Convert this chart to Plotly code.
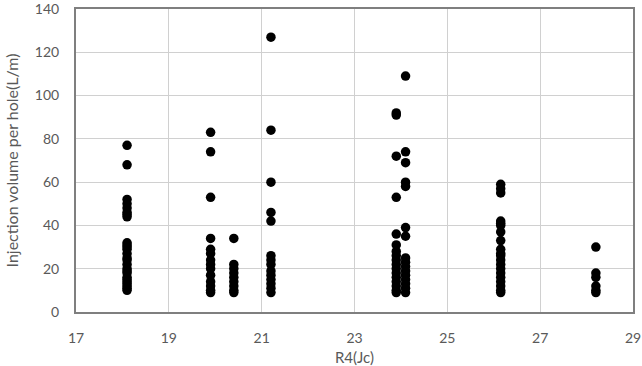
import plotly.graph_objects as go

# R4(Jc) group positions and injection volumes per hole (L/m)
x_181 = 18.1
y_181 = [77, 68, 52, 50, 48, 46, 45, 44, 32, 31, 30, 29, 27, 25, 24, 22, 20, 19, 18, 16, 15, 14, 13, 12, 11, 10]
x_199 = 19.9
y_199 = [83, 74, 53, 34, 29, 27, 24, 22, 20, 17, 14, 12, 10, 9]
x_204 = 20.4
y_204 = [34, 22, 20, 18, 16, 14, 12, 10, 9]
x_212 = 21.2
y_212 = [127, 84, 60, 46, 42, 26, 24, 22, 19, 17, 15, 13, 11, 9]
x_239 = 23.9
y_239 = [91, 92, 72, 53, 36, 31, 28, 26, 24, 22, 20, 18, 16, 14, 12, 10, 9]
x_241 = 24.1
y_241 = [109, 74, 69, 60, 58, 39, 35, 25, 23, 21, 19, 17, 15, 13, 11, 9]
x_261 = 26.15
y_261 = [59, 57, 55, 42, 41, 40, 37, 33, 29, 27, 26, 24, 22, 20, 18, 16, 14, 12, 10, 9]
x_282 = 28.2
y_282 = [30, 18, 16, 12, 10, 9]

groups = [(x_181, y_181), (x_199, y_199), (x_204, y_204), (x_212, y_212),
          (x_239, y_239), (x_241, y_241), (x_261, y_261), (x_282, y_282)]

xs, ys = [], []
for gx, gy in groups:
    xs += [gx] * len(gy)
    ys += gy

x_ticks = [17, 19, 21, 23, 25, 27, 29]
y_ticks = [0, 20, 40, 60, 80, 100, 120, 140]

fig = go.Figure(go.Scatter(
    x=xs, y=ys, mode="markers",
    marker=dict(color="black", size=9.5),
    showlegend=False,
))

font = dict(family="Lato, Open Sans, sans-serif", size=14, color="#595959")

fig.update_layout(
    width=642, height=366,
    margin=dict(l=76, r=9, t=9, b=54, autoexpand=False),
    paper_bgcolor="white", plot_bgcolor="white",
    font=font,
)
fig.update_xaxes(
    range=[17, 29], tickvals=x_ticks, ticktext=[str(v) for v in x_ticks],
    showgrid=True, gridcolor="#d0d0d0", gridwidth=1,
    showline=True, linecolor="#7f7f7f", linewidth=2, mirror=True,
    zeroline=False, ticks="", ticklen=0, ticklabelstandoff=12,
    ticklabeloverflow="allow", automargin=False,
    title=dict(text="R4(Jc)", font=dict(size=15, color="#595959"), standoff=13),
)
fig.update_yaxes(
    range=[0, 140], tickvals=y_ticks, ticktext=[str(v) for v in y_ticks],
    showgrid=True, gridcolor="#d0d0d0", gridwidth=1,
    showline=True, linecolor="#7f7f7f", linewidth=2, mirror=True,
    zeroline=False, ticks="", ticklabelstandoff=12,
    ticklabeloverflow="allow", automargin=False,
    title=dict(text="Injection volume per hole(L/m)", font=dict(size=16, color="#595959"), standoff=12),
)

fig.write_html("out.html")
